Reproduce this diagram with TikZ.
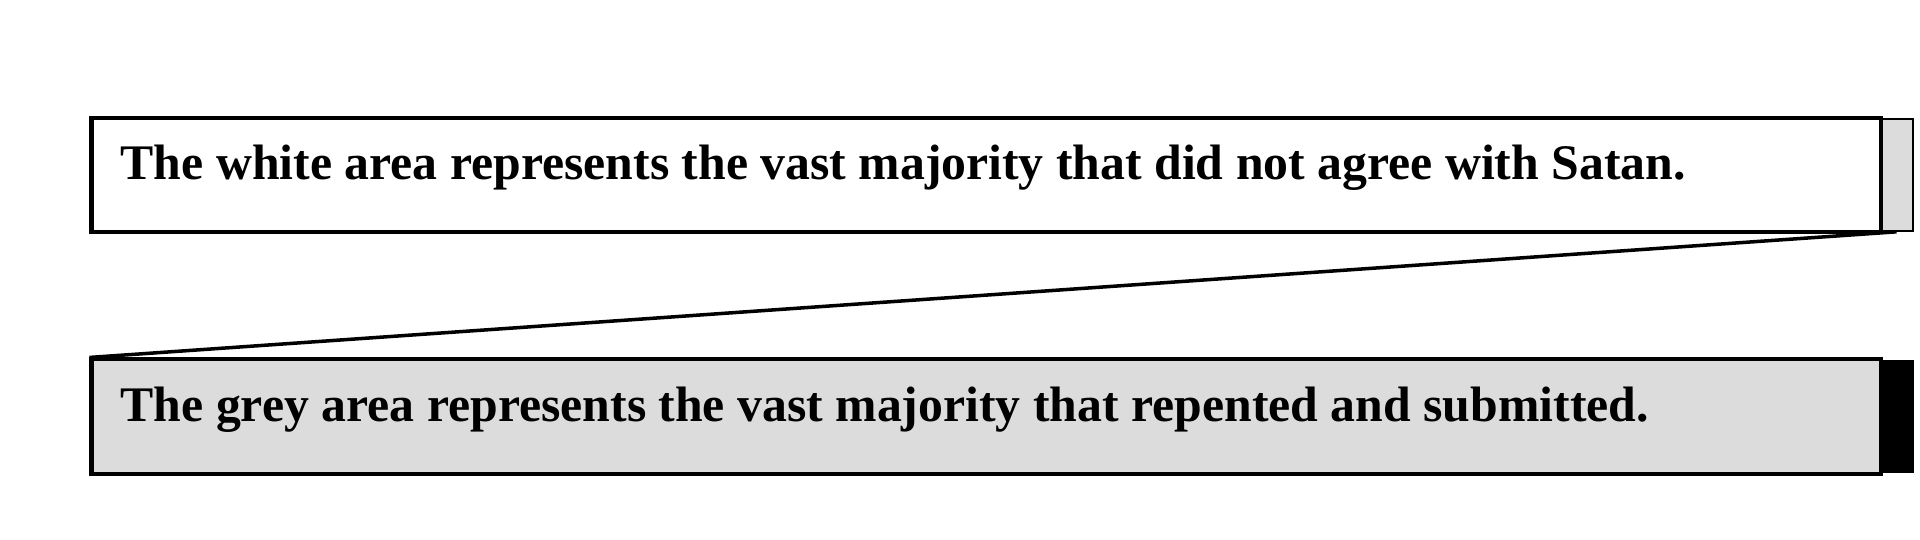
\documentclass[tikz,border=0pt]{standalone}
\usepackage{fontspec}
\setmainfont{Liberation Serif}
\definecolor{greyfill}{RGB}{220,220,220}
\tikzset{
  bigbox/.style={draw=black, line width=1.15pt, inner sep=0pt, minimum width=17.88cm, minimum height=1.14cm},
  tabbox/.style={inner sep=0pt, minimum width=0.33cm, minimum height=1.12cm},
  label/.style={anchor=base west, inner sep=0pt, font=\fontsize{14.15pt}{17pt}\selectfont\bfseries},
  link/.style={draw=black, line width=1pt}
}
\begin{document}
\begin{tikzpicture}[x=0.01cm,y=-0.01cm]
\useasboundingbox[fill=white] (0,0) rectangle (1920,540);
% top row
\node[tabbox, fill=greyfill, draw=black, line width=0.45pt] (tab1) at (1896.5,175) {};
\node[bigbox, fill=white] (top) at (986,175) {};
\node[label] (toptext) at (120,180) {The white area represents the vast majority that did not agree with Satan.};
% bottom row
\node[tabbox, fill=black, minimum width=0.34cm, minimum height=1.13cm] (tab2) at (1897,416.5) {};
\node[bigbox, fill=greyfill] (bot) at (986,416.5) {};
\node[label] (bottext) at (120,422) {The grey area represents the vast majority that repented and submitted.};
% connector
\draw[link] (tab1.south) -- (bot.north west);
\end{tikzpicture}
\end{document}
